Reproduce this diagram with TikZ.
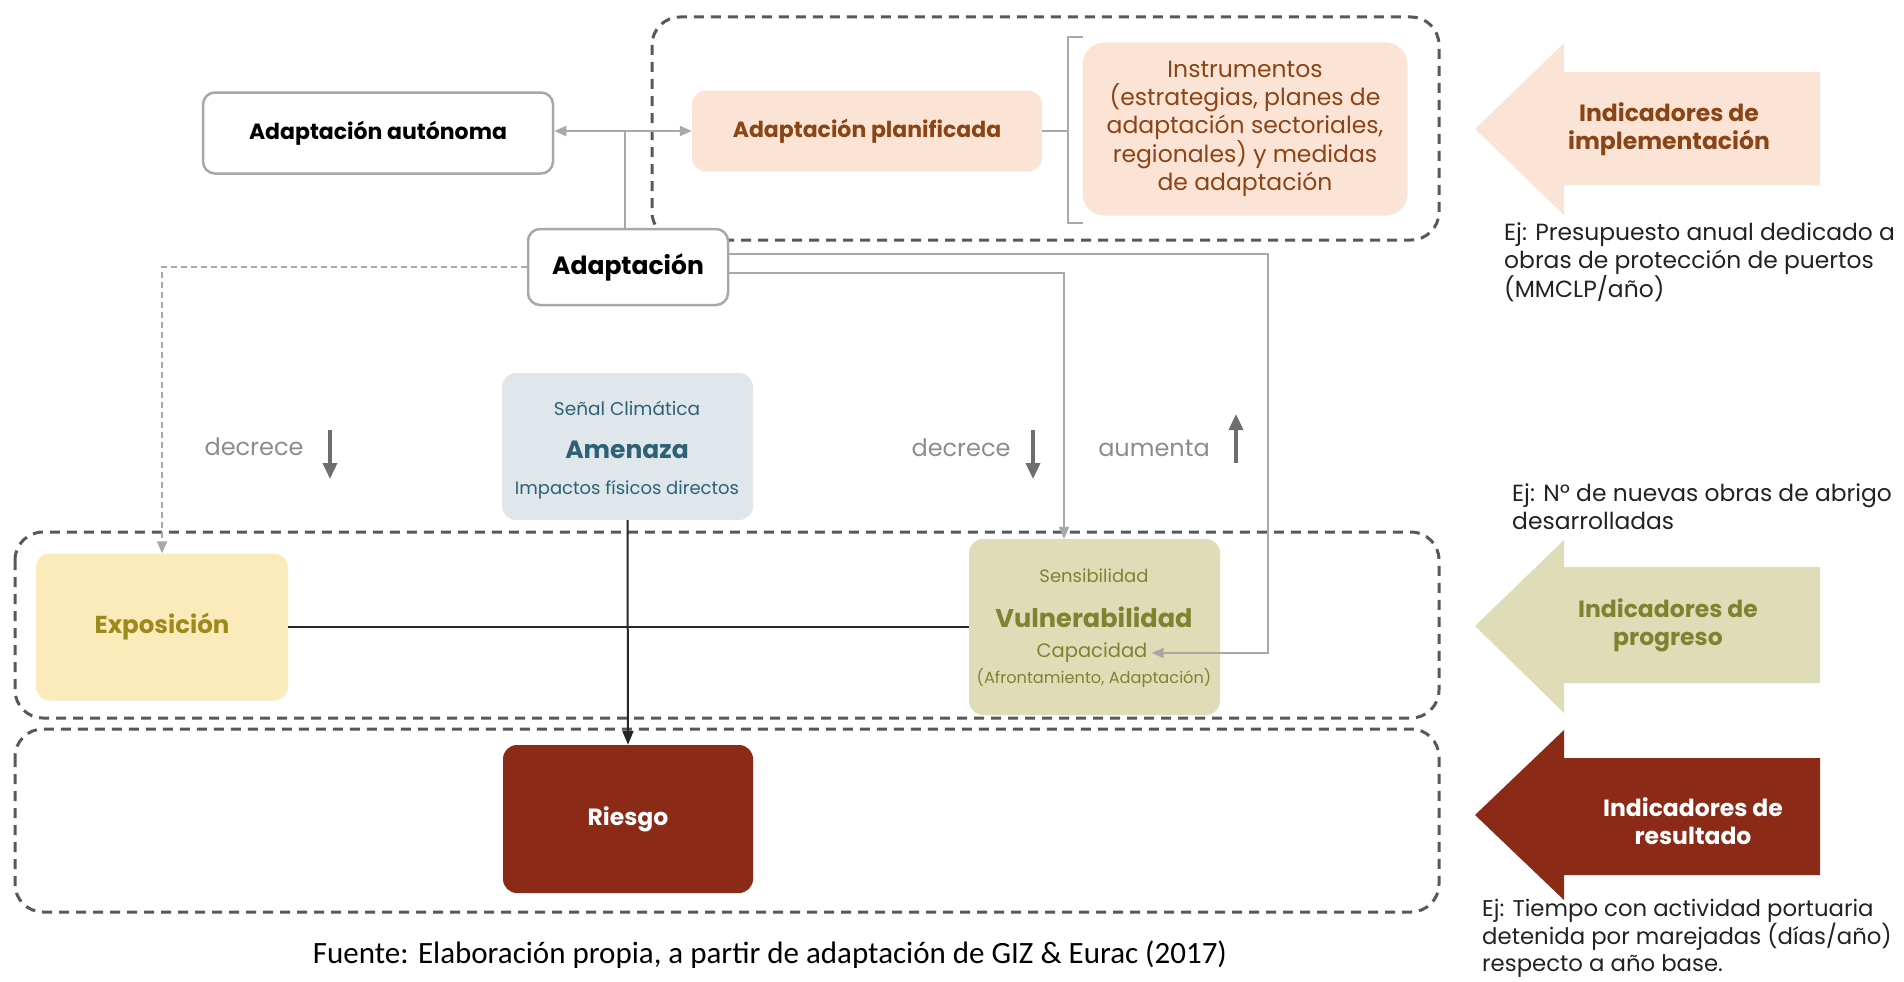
\documentclass[tikz,border=0pt]{standalone}
\usepackage{fontspec}
\setmainfont{Poppins}
\newfontfamily\calib{Carlito}
\usetikzlibrary{arrows.meta}

\definecolor{peach}{HTML}{FBE4D5}
\definecolor{brownt}{HTML}{8A4516}
\definecolor{amenfill}{HTML}{DFE6EC}
\definecolor{amentext}{HTML}{2D6275}
\definecolor{expofill}{HTML}{FBEBBA}
\definecolor{expotext}{HTML}{9C8A1C}
\definecolor{vulnfill}{HTML}{DEDDB8}
\definecolor{vulntext}{HTML}{7B8530}
\definecolor{riskfill}{HTML}{8C2A18}
\definecolor{dashc}{HTML}{585858}
\definecolor{glc}{HTML}{A8A8A8}
\definecolor{arrc}{HTML}{6E6E6E}
\definecolor{txtgray}{HTML}{8C8C8C}
\definecolor{ejtext}{HTML}{222222}

\newcommand{\fz}[2]{\fontsize{#1pt}{#2pt}\selectfont}

\tikzset{
  groupbox/.style={draw=dashc, line width=3pt, dash pattern=on 10pt off 7pt, rounded corners=28pt},
  wbox/.style={draw=glc, line width=2.5pt, fill=white, rounded corners=12pt, inner sep=0pt},
  fbox/.style={rounded corners=14pt, inner sep=0pt},
  gline/.style={draw=glc, line width=2pt},
  bline/.style={draw=black!85, line width=2pt},
  dline/.style={draw=glc, line width=2pt, dash pattern=on 6pt off 4pt},
  tip/.style={-{Triangle[length=12pt,width=10pt]}},
  bigarrow/.style={draw=arrc, line width=3.5pt, -{Triangle[length=16pt,width=14pt]}},
  ejtxt/.style={text=ejtext, align=left, inner sep=0pt, font=\fz{23.4}{28}},
  indtxt/.style={align=center, inner sep=0pt, font=\fz{23.5}{28}\bfseries}
}

\begin{document}
\begin{tikzpicture}[x=1pt,y=-1pt]
\path[use as bounding box] (0,0) rectangle (1904,982);

% group boxes
\draw[groupbox] (652,17) rectangle (1439,240);
\draw[groupbox] (15,532) rectangle (1439,718);
\draw[groupbox] (15,729) rectangle (1439,912);

% top nodes
\node[wbox, minimum width=350pt, minimum height=81pt, font=\fz{22}{26}\bfseries] (auto) at (378,133)
  {Adaptación autónoma};
\node[fbox, fill=peach, text=brownt, minimum width=350pt, minimum height=81pt, font=\fz{22}{26}\bfseries] (plan) at (867,131)
  {Adaptación planificada};
\node[fbox, fill=peach, rounded corners=22pt, text=brownt, align=center, minimum width=325pt, minimum height=173pt, font=\fz{23.5}{28}] (instr) at (1245,129)
  {Instrumentos\\(estrategias, planes de\\adaptación sectoriales,\\regionales) y medidas\\de adaptación};
\node[wbox, minimum width=200pt, minimum height=76pt, font=\fz{25}{30}\bfseries] (adap) at (628,267)
  {Adaptación};

% middle nodes
\node[fbox, fill=amenfill, minimum width=251pt, minimum height=147pt] (amen) at (627.5,446.5) {};
\node[text=amentext, inner sep=0pt, font=\fz{18.5}{22}] (senal) at (627,408) {Señal Climática};
\node[text=amentext, inner sep=0pt, font=\fz{25}{30}\bfseries] (amenlbl) at (627,450) {Amenaza};
\node[text=amentext, inner sep=0pt, font=\fz{18}{22}] (impact) at (627,490) {Impactos físicos directos};

\node[fbox, fill=expofill, text=expotext, minimum width=252pt, minimum height=147pt, font=\fz{24.5}{29}\bfseries] (expo) at (162,627)
  {Exposición};

\node[fbox, fill=vulnfill, minimum width=251pt, minimum height=176pt] (vuln) at (1094.5,627) {};
\node[text=vulntext, inner sep=0pt, font=\fz{18}{22}] (sens) at (1094,576) {Sensibilidad};
\node[text=vulntext, inner sep=0pt, font=\fz{25.6}{30}\bfseries] (vulnlbl) at (1094,617) {Vulnerabilidad};
\node[text=vulntext, inner sep=4pt, font=\fz{19.5}{23}] (cap) at (1092,653) {Capacidad};
\node[text=vulntext, inner sep=0pt, font=\fz{16.2}{19}] (afr) at (1094,678) {(Afrontamiento, Adaptación)};

\node[fbox, fill=riskfill, text=white, minimum width=250pt, minimum height=148pt, font=\fz{23.5}{28}\bfseries] (riesgo) at (628,819)
  {Riesgo};

% labels decrece / aumenta
\node[text=txtgray, inner sep=0pt, font=\fz{24}{28}] (dec1) at (254,447) {decrece};
\node[text=txtgray, inner sep=0pt, font=\fz{24}{28}] (dec2) at (961,448) {decrece};
\node[text=txtgray, inner sep=0pt, font=\fz{24}{28}] (aum) at (1154,448) {aumenta};
\draw[bigarrow] (330,430) -- (330,479);
\draw[bigarrow] (1033,430) -- (1033,479);
\draw[bigarrow] (1236,463) -- (1236,414);

% connectors
\draw[gline, {Triangle[length=12pt,width=10pt]}-{Triangle[length=12pt,width=10pt]}] (auto.east |- plan.west) -- (plan.west);
\draw[gline] (adap.north -| 625,0) -- (625,131);
\draw[gline] (plan.east) -- (1068,131);
\draw[gline] (1083,37) -- (1068,37) -- (1068,223) -- (1083,223);

\draw[dline, tip] (adap.west) -| (expo.north);
\coordinate (r1) at (1268,254);
\draw[gline, tip] ([yshift=13pt]adap.east) -- (r1) |- (cap.east);
\draw[gline, tip] ([yshift=-6pt]adap.east) -| ([xshift=-30.5pt]vuln.north);

\draw[bline] (expo.east) -- (vuln.west);
\draw[bline, -{Triangle[length=14pt,width=11pt]}] (amen.south) -- (riesgo.north);

% indicator arrows
\fill[peach] (1820,72) -- (1564,72) -- (1564,43) -- (1475,129) -- (1564,215) -- (1564,185) -- (1820,185) -- cycle;
\node[indtxt, text=brownt] (ind1) at (1669,129) {Indicadores de\\implementación};
\fill[vulnfill] (1820,567) -- (1564,567) -- (1564,540) -- (1475,626) -- (1564,713) -- (1564,683) -- (1820,683) -- cycle;
\node[indtxt, text=vulntext] (ind2) at (1668,625) {Indicadores de\\progreso};
\fill[riskfill] (1820,758) -- (1564,758) -- (1564,730) -- (1475,815) -- (1564,900) -- (1564,875) -- (1820,875) -- cycle;
\node[indtxt, text=white] (ind3) at (1693,821) {Indicadores de\\resultado};

% examples
\node[ejtxt, anchor=west] (ej1) at (1504,262) {Ej: Presupuesto anual dedicado a\\obras de protección de puertos\\(MMCLP/año)};
\node[ejtxt, anchor=west] (ej2) at (1512,507) {Ej: Nº de nuevas obras de abrigo\\desarrolladas};
\node[ejtxt, anchor=west, font=\fz{22.8}{27}] (ej3) at (1482,938) {Ej: Tiempo con actividad portuaria\\detenida por marejadas (días/año)\\respecto a año base.};

% source
\node[inner sep=0pt, font=\calib\fz{31}{36}] (src) at (770,955) {Fuente: Elaboración propia, a partir de adaptación de GIZ \& Eurac (2017)};
\end{tikzpicture}
\end{document}
